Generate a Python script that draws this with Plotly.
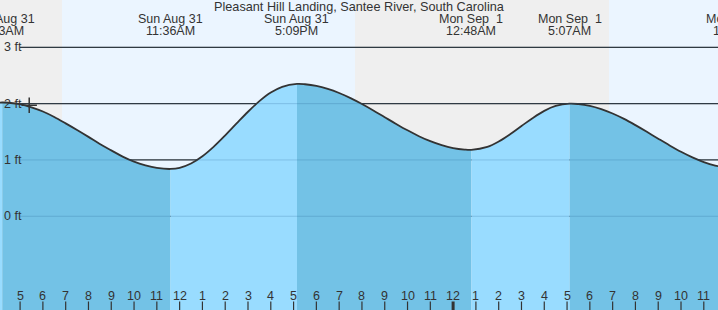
import plotly.graph_objects as go

# ---------------- data ----------------
# time in hours since Sun Aug 31 00:00, height in ft
hours = [4.0, 4.217, 4.5, 5, 5.5, 6, 6.5, 7, 7.5, 8, 8.5, 9, 9.5, 10, 10.5, 11, 11.6,
         12, 12.5, 13, 13.5, 14, 14.5, 15, 15.5, 16, 16.5, 17.15,
         17.5, 18, 18.5, 19, 19.5, 20, 20.5, 21, 21.5, 22, 22.5, 23, 23.5, 24, 24.5, 24.8,
         25.5, 26, 26.5, 27, 27.5, 28, 28.5, 29.117,
         29.5, 30, 30.5, 31, 31.5, 32, 32.5, 33, 33.5, 34, 34.5, 35, 35.5, 36]
heights = [2.015, 2.02, 2.016, 1.99, 1.934, 1.86, 1.763, 1.65, 1.532, 1.41, 1.283, 1.17, 1.06, 0.97, 0.904, 0.859, 0.84,
           0.859, 0.936, 1.065, 1.236, 1.436, 1.648, 1.856, 2.044, 2.196, 2.299, 2.35,
           2.344, 2.315, 2.262, 2.189, 2.098, 1.993, 1.879, 1.759, 1.64, 1.526, 1.422, 1.333, 1.262, 1.211, 1.184, 1.18,
           1.232, 1.327, 1.456, 1.602, 1.747, 1.872, 1.959, 2.00,
           1.992, 1.96, 1.903, 1.825, 1.729, 1.618, 1.5, 1.378, 1.258, 1.145, 1.046, 0.963, 0.901, 0.863]

# tide extremes (hour, label day, label time)
event_hours = [4.217, 11.6, 17.15, 24.8, 29.117, 36.52]
event_days = ["Sun Aug 31", "Sun Aug 31", "Sun Aug 31", "Mon Sep\u00a0 1", "Mon Sep\u00a0 1", "Mon Sep\u00a0 1"]
event_times = ["4:13AM", "11:36AM", "5:09PM", "12:48AM", "5:07AM", "12:31PM"]

# night periods (hour start, hour end)
night_start = [0.0, 19.695]
night_end = [6.84, 30.84]

# hour ticks along the bottom
tick_hours = list(range(5, 36))
tick_labels = [str(h % 12 if h % 12 else 12) for h in tick_hours]

# y gridlines
grid_ft = [3, 2, 1, 0]
grid_labels = ["3 ft", "2 ft", "1 ft", "0 ft"]

# current-time marker
now_hour = [5.4]
now_height = [1.97]

title = "Pleasant Hill Landing, Santee River, South Carolina"

# ---------------- layout constants ----------------
X0, X1 = 4.118, 4.118 + 718 / 22.79
Y0, Y1 = -1.664, 3.84
W, H = 718, 310
DARK_FILL = "#73c2e6"
LIGHT_FILL = "#99dcff"
TXT = "#333333"
FONT = "Liberation Sans, Arial, sans-serif"
SMOOTH = 1.0


def ypaper(px):
    return 1 - px / H


def xpaper(h):
    return (h - X0) / (X1 - X0)


fig = go.Figure()

# filled segments between extremes, alternating colours
bounds = [X0 - 1] + event_hours[:5] + [X1 + 1]
for i in range(len(bounds) - 1):
    a, b = bounds[i], bounds[i + 1]
    xs = [h for h in hours if a <= h <= b]
    ys = [heights[hours.index(h)] for h in xs]
    if not xs:
        continue
    rising = ys[-1] > ys[0]
    color = LIGHT_FILL if rising else DARK_FILL
    fig.add_trace(go.Scatter(x=[xs[0], xs[-1]], y=[Y0 - 2, Y0 - 2], mode="lines",
                             line=dict(width=0), hoverinfo="skip", showlegend=False))
    fig.add_trace(go.Scatter(x=xs, y=ys, mode="lines",
                             line=dict(width=0, shape="spline", smoothing=SMOOTH),
                             fill="tonexty", fillcolor=color, hoverinfo="skip", showlegend=False))

# tide curve
fig.add_trace(go.Scatter(x=hours, y=heights, mode="lines",
                         line=dict(color="#333333", width=1.8, shape="spline", smoothing=SMOOTH),
                         hoverinfo="skip", showlegend=False))

# current time marker
fig.add_trace(go.Scatter(x=now_hour, y=now_height, mode="markers",
                         marker=dict(symbol="cross-thin", size=11,
                                     line=dict(color="#333333", width=1.5)),
                         hoverinfo="skip", showlegend=False))

shapes = []
for s, e in zip(night_start, night_end):
    shapes.append(dict(type="rect", xref="x", yref="paper", x0=s, x1=e, y0=0, y1=1,
                       fillcolor="#efefef", line=dict(width=0), layer="below"))
grid_x0 = X0 + 20 / 22.79
for g in grid_ft:
    shapes.append(dict(type="line", xref="x", yref="y", x0=grid_x0, x1=X1 + 1, y0=g, y1=g,
                       line=dict(color="#333333", width=1.2), layer="below"))
    shapes.append(dict(type="line", xref="x", yref="y", x0=grid_x0, x1=X1 + 1, y0=g, y1=g,
                       line=dict(color="rgba(30,90,140,0.22)", width=1), layer="above"))
for h in tick_hours:
    shapes.append(dict(type="line", xref="x", yref="paper", x0=h, x1=h, y0=0, y1=8.5 / H,
                       line=dict(color="#333333", width=3 if h == 24 else 1.2), layer="above"))

annotations = []
annotations.append(dict(text=title, xref="paper", yref="paper", x=0.5, y=ypaper(7.3),
                        xanchor="center", yanchor="middle", showarrow=False,
                        font=dict(family=FONT, size=12.7, color=TXT)))
for h, d, t in zip(event_hours, event_days, event_times):
    annotations.append(dict(text=d, xref="paper", yref="paper", x=xpaper(h), y=ypaper(19.5),
                            xanchor="center", yanchor="middle", showarrow=False,
                            font=dict(family=FONT, size=12.5, color=TXT)))
    annotations.append(dict(text=t, xref="paper", yref="paper", x=xpaper(h), y=ypaper(31.5),
                            xanchor="center", yanchor="middle", showarrow=False,
                            font=dict(family=FONT, size=12.5, color=TXT)))
for g, lab in zip(grid_ft, grid_labels):
    annotations.append(dict(text=lab, xref="paper", yref="y", x=0, y=g, xshift=2,
                            xanchor="left", yanchor="middle", showarrow=False,
                            font=dict(family=FONT, size=12.5, color=TXT)))
for h, lab in zip(tick_hours, tick_labels):
    annotations.append(dict(text=lab, xref="x", yref="paper", x=h, y=ypaper(295.5),
                            xanchor="center", yanchor="middle", showarrow=False,
                            font=dict(family=FONT, size=12.5, color=TXT)))

fig.update_layout(
    width=W, height=H, margin=dict(l=0, r=0, t=0, b=0),
    paper_bgcolor="white", plot_bgcolor="#ebf5ff",
    xaxis=dict(range=[X0, X1], visible=False, fixedrange=True),
    yaxis=dict(range=[Y0, Y1], visible=False, fixedrange=True),
    shapes=shapes, annotations=annotations, showlegend=False, hovermode=False,
)

fig.write_html("out.html", config={"displayModeBar": False})
